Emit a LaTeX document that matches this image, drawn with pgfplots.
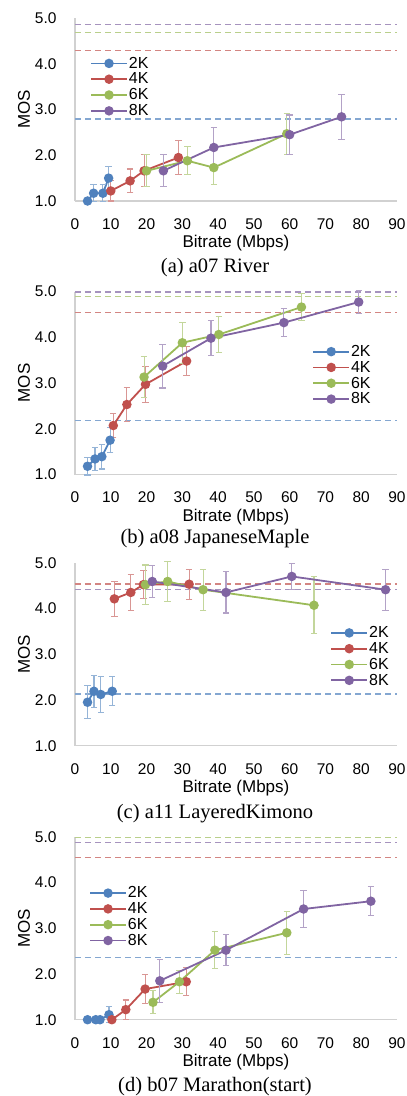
\documentclass[border=0pt]{standalone}
\usepackage{pgfplots}
\pgfplotsset{compat=1.18}
\usepackage{fontspec}
\setmainfont{Liberation Sans}
\newfontfamily\seriffont{Liberation Serif}
\definecolor{cA}{HTML}{4F81BD}
\definecolor{cB}{HTML}{C0504D}
\definecolor{cC}{HTML}{9BBB59}
\definecolor{cD}{HTML}{8064A2}
\pgfplotsset{
 mos/.style={
  scale only axis, width=322pt, height=183pt,
  xmin=0, xmax=90, ymin=1, ymax=5,
  xtick={0,10,...,90}, ytick={1,2,3,4,5},
  axis x line*=bottom, axis y line*=left,
  axis line style={-, draw=black!18, line width=1.2pt},
  major tick length=0pt,
  tick label style={font=\fontsize{15.5}{18}\selectfont},
  /pgf/number format/assume math mode=true,
  yticklabel style={/pgf/number format/fixed, /pgf/number format/fixed zerofill, /pgf/number format/precision=1, xshift=-15pt},
  xticklabel style={yshift=-14pt},
  xlabel={Bitrate (Mbps)}, ylabel={MOS},
  label style={font=\fontsize{17}{20}\selectfont},
  xlabel style={at={(axis description cs:0.5,0)}, anchor=center, yshift=-42.5pt},
  ylabel style={at={(axis description cs:-0.158,0.5)}, anchor=center},
  clip=false,
  legend cell align=left,
  legend style={draw=none, fill=none, font=\fontsize{16}{19}\selectfont, row sep=1.2pt, nodes={inner sep=1pt}},
  legend image code/.code={\draw[mark repeat=2,mark phase=2] plot coordinates {(0pt,0pt) (18pt,0pt) (36pt,0pt)};},
 },
 ser/.style={#1, line width=1.8pt, mark=*, mark size=3.8pt, mark options={solid},
   error bars/.cd, y dir=both, y explicit,
   error bar style={#1!60, line width=1.1pt},
   error mark options={#1!60, rotate=90, mark size=3.2pt, line width=1.1pt}},
 ref/.style={#1!70, dashed, dash pattern=on 6pt off 4pt, line width=1.5pt, forget plot, no marks},
}
\begin{document}
\begin{tikzpicture}
\useasboundingbox (0,0) rectangle (407pt,-1096pt);
% (a)
\begin{axis}[mos, at={(75pt,-18pt)}, anchor=north west,
  legend style={at={(axis description cs:0.037,0.804)}, anchor=north west}]
\addplot[ref=cD] coordinates {(0,4.86) (90,4.86)};
\addplot[ref=cC] coordinates {(0,4.68) (90,4.68)};
\addplot[ref=cB] coordinates {(0,4.29) (90,4.29)};
\addplot[ref=cA] coordinates {(0,2.79) (90,2.79)};
\addplot[ser=cA] coordinates {(3.5,1.00) +- (0,0) (5.2,1.17) +- (0,0.19) (7.8,1.17) +- (0,0.19) (9.4,1.50) +- (0,0.26)};
\addplot[ser=cB] coordinates {(10.0,1.22) +- (0,0.22) (15.4,1.44) +- (0,0.26) (19.3,1.66) +- (0,0.35) (28.9,1.95) +- (0,0.37)};
\addplot[ser=cC] coordinates {(20.0,1.66) +- (0,0.35) (31.4,1.88) +- (0,0.31) (38.8,1.73) +- (0,0.37) (59.2,2.47) +- (0,0.45)};
\addplot[ser=cD] coordinates {(24.7,1.66) +- (0,0.35) (38.8,2.17) +- (0,0.44) (60.0,2.45) +- (0,0.43) (74.5,2.84) +- (0,0.49)};
\legend{2K,4K,6K,8K}
\end{axis}
\node[font=\seriffont\fontsize{20.5}{24}\selectfont] at (215pt,-268pt) {(a) a07 River};
% (b)
\begin{axis}[mos, at={(75pt,-291.5pt)}, anchor=north west,
  legend style={at={(axis description cs:0.727,0.36)}, anchor=south west}]
\addplot[ref=cD] coordinates {(0,4.99) (90,4.99)};
\addplot[ref=cC] coordinates {(0,4.89) (90,4.89)};
\addplot[ref=cB] coordinates {(0,4.54) (90,4.54)};
\addplot[ref=cA] coordinates {(0,2.18) (90,2.18)};
\addplot[ser=cA] coordinates {(3.5,1.18) +- (0,0.19) (5.6,1.34) +- (0,0.26) (7.5,1.39) +- (0,0.27) (9.8,1.75) +- (0,0.27)};
\addplot[ser=cB] coordinates {(10.7,2.07) +- (0,0.26) (14.5,2.53) +- (0,0.38) (19.7,2.97) +- (0,0.40) (31.2,3.48) +- (0,0.31)};
\addplot[ser=cC] coordinates {(19.3,3.13) +- (0,0.45) (30.0,3.88) +- (0,0.45) (40.2,4.06) +- (0,0.39) (63.3,4.66) +- (0,0.30)};
\addplot[ser=cD] coordinates {(24.5,3.37) +- (0,0.48) (38.0,3.98) +- (0,0.38) (58.4,4.32) +- (0,0.30) (79.3,4.77) +- (0,0.25)};
\legend{2K,4K,6K,8K}
\end{axis}
\node[font=\seriffont\fontsize{20.5}{24}\selectfont] at (215pt,-538.3pt) {(b) a08 JapaneseMaple};
% (c)
\begin{axis}[mos, at={(75pt,-562.7pt)}, anchor=north west,
  legend style={at={(axis description cs:0.783,0.305)}, anchor=south west}]
\addplot[ref=cC] coordinates {(0,4.54) (90,4.54)};
\addplot[ref=cB] coordinates {(0,4.53) (90,4.53)};
\addplot[ref=cD] coordinates {(0,4.41) (90,4.41)};
\addplot[ref=cA] coordinates {(0,2.13) (90,2.13)};
\addplot[ser=cA] coordinates {(3.5,1.95) +- (0,0.36) (5.3,2.19) +- (0,0.35) (7.2,2.12) +- (0,0.40) (10.4,2.19) +- (0,0.32)};
\addplot[ser=cB] coordinates {(11.0,4.21) +- (0,0.38) (15.6,4.35) +- (0,0.40) (19.1,4.52) +- (0,0.30) (31.9,4.53) +- (0,0.33)};
\addplot[ser=cC] coordinates {(19.7,4.52) +- (0,0.43) (25.9,4.59) +- (0,0.43) (35.8,4.41) +- (0,0.45) (66.8,4.07) +- (0,0.62)};
\addplot[ser=cD] coordinates {(21.6,4.59) +- (0,0.35) (42.2,4.35) +- (0,0.45) (60.6,4.70) +- (0,0.28) (86.8,4.41) +- (0,0.45)};
\legend{2K,4K,6K,8K}
\end{axis}
\node[font=\seriffont\fontsize{20.5}{24}\selectfont] at (215pt,-813.3pt) {(c) a11 LayeredKimono};
% (d)
\begin{axis}[mos, at={(75pt,-836.7pt)}, anchor=north west,
  legend style={at={(axis description cs:0.034,0.744)}, anchor=north west}]
\addplot[ref=cC] coordinates {(0,4.98) (90,4.98)};
\addplot[ref=cD] coordinates {(0,4.87) (90,4.87)};
\addplot[ref=cB] coordinates {(0,4.55) (90,4.55)};
\addplot[ref=cA] coordinates {(0,2.36) (90,2.36)};
\addplot[ser=cA] coordinates {(3.5,1.00) +- (0,0) (5.8,1.00) +- (0,0) (7.0,1.00) +- (0,0) (9.5,1.11) +- (0,0.17)};
\addplot[ser=cB] coordinates {(10.3,1.00) +- (0,0) (14.2,1.22) +- (0,0.21) (19.6,1.67) +- (0,0.31) (31.1,1.83) +- (0,0.31)};
\addplot[ser=cC] coordinates {(21.8,1.38) +- (0,0.25) (29.2,1.83) +- (0,0.25) (39.1,2.52) +- (0,0.40) (59.2,2.90) +- (0,0.47)};
\addplot[ser=cD] coordinates {(23.7,1.85) +- (0,0.47) (42.2,2.52) +- (0,0.34) (63.9,3.42) +- (0,0.40) (82.7,3.59) +- (0,0.32)};
\legend{2K,4K,6K,8K}
\end{axis}
\node[font=\seriffont\fontsize{20.5}{24}\selectfont] at (215pt,-1086.7pt) {(d) b07 Marathon(start)};
\end{tikzpicture}
\end{document}
